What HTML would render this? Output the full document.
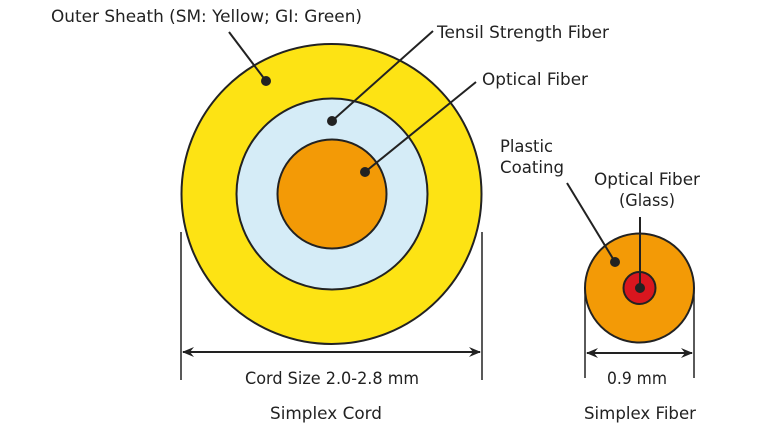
<!DOCTYPE html>
<html><head><meta charset="utf-8"><style>
html,body{margin:0;padding:0;background:#fff;}
svg{display:block}
text{font-family:"DejaVu Sans","Liberation Sans",sans-serif;font-size:17px;fill:#222}
</style></head><body>
<svg width="768" height="432" viewBox="0 0 768 432" xmlns="http://www.w3.org/2000/svg">
<defs>
<marker id="a" markerWidth="12" markerHeight="10" refX="11" refY="5" orient="auto-start-reverse" markerUnits="userSpaceOnUse">
<path d="M0,0 L12,5 L0,10 L4,5 Z" fill="#222"/></marker>
</defs>
<circle cx="331.5" cy="194" r="150" fill="#fde314" stroke="#222" stroke-width="2"/>
<circle cx="332" cy="194" r="95.5" fill="#d5ecf7" stroke="#222" stroke-width="2"/>
<circle cx="332" cy="194" r="54.5" fill="#f39a06" stroke="#222" stroke-width="2"/>
<circle cx="266" cy="81" r="5" fill="#222"/>
<circle cx="332" cy="121" r="5" fill="#222"/>
<circle cx="365" cy="172" r="5" fill="#222"/>
<line x1="229" y1="32" x2="266" y2="81" stroke="#222" stroke-width="2"/>
<line x1="433" y1="31" x2="332" y2="121" stroke="#222" stroke-width="2"/>
<line x1="476" y1="82" x2="365" y2="172" stroke="#222" stroke-width="2"/>
<line x1="181" y1="232" x2="181" y2="380" stroke="#222" stroke-width="1.5"/>
<line x1="482" y1="232" x2="482" y2="380" stroke="#222" stroke-width="1.5"/>
<line x1="183" y1="352" x2="480" y2="352" stroke="#222" stroke-width="2" marker-start="url(#a)" marker-end="url(#a)"/>
<text x="51" y="22" textLength="311" lengthAdjust="spacingAndGlyphs">Outer Sheath (SM: Yellow; GI: Green)</text>
<text x="437" y="38" textLength="172" lengthAdjust="spacingAndGlyphs">Tensil Strength Fiber</text>
<text x="482" y="85" textLength="106" lengthAdjust="spacingAndGlyphs">Optical Fiber</text>
<text x="332" y="384" text-anchor="middle" textLength="174" lengthAdjust="spacingAndGlyphs">Cord Size 2.0-2.8 mm</text>
<text x="326" y="419" text-anchor="middle" textLength="112" lengthAdjust="spacingAndGlyphs">Simplex Cord</text>
<circle cx="639.5" cy="288" r="54.5" fill="#f39a06" stroke="#222" stroke-width="2"/>
<circle cx="639.5" cy="288" r="16" fill="#d9161e" stroke="#222" stroke-width="2"/>
<circle cx="640" cy="288" r="5" fill="#222"/>
<circle cx="615" cy="262" r="5" fill="#222"/>
<line x1="640" y1="217" x2="640" y2="288" stroke="#222" stroke-width="2"/>
<line x1="567" y1="183" x2="615" y2="262" stroke="#222" stroke-width="2"/>
<line x1="585" y1="288" x2="585" y2="378" stroke="#222" stroke-width="1.5"/>
<line x1="694" y1="288" x2="694" y2="378" stroke="#222" stroke-width="1.5"/>
<line x1="587" y1="353" x2="692" y2="353" stroke="#222" stroke-width="2" marker-start="url(#a)" marker-end="url(#a)"/>
<text x="500" y="152" textLength="53" lengthAdjust="spacingAndGlyphs">Plastic</text>
<text x="500" y="173" textLength="64" lengthAdjust="spacingAndGlyphs">Coating</text>
<text x="647" y="185" text-anchor="middle" textLength="106" lengthAdjust="spacingAndGlyphs">Optical Fiber</text>
<text x="647" y="206" text-anchor="middle" textLength="56" lengthAdjust="spacingAndGlyphs">(Glass)</text>
<text x="637" y="384" text-anchor="middle" textLength="60" lengthAdjust="spacingAndGlyphs">0.9 mm</text>
<text x="640" y="419" text-anchor="middle" textLength="112" lengthAdjust="spacingAndGlyphs">Simplex Fiber</text>
</svg>
</body></html>
